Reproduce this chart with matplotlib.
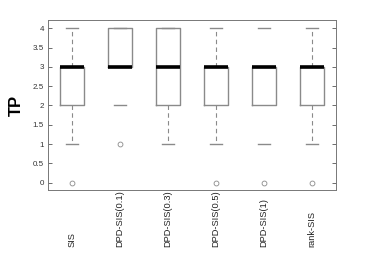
import matplotlib
matplotlib.use("Agg")
import matplotlib.pyplot as plt

plt.rcParams['font.family'] = ['Liberation Sans', 'DejaVu Sans']

methods = ["SIS", "DPD-SIS(0.1)", "DPD-SIS(0.3)", "DPD-SIS(0.5)", "DPD-SIS(1)", "rank-SIS"]
q1 = [2, 3, 2, 2, 2, 2]
med = [3, 3, 3, 3, 3, 3]
q3 = [3, 4, 4, 3, 3, 3]
whislo = [1, 2, 1, 1, 1, 1]
whishi = [4, 4, 4, 4, 4, 4]
fliers = [[0], [1], [], [0], [0], [0]]
yticks = [0, 0.5, 1, 1.5, 2, 2.5, 3, 3.5, 4]

stats = []
for i, m in enumerate(methods):
    stats.append(dict(label=m, q1=q1[i], med=med[i], q3=q3[i],
                      whislo=whislo[i], whishi=whishi[i], fliers=fliers[i]))

fig = plt.figure(figsize=(3.71, 2.78), dpi=100)
ax = fig.add_axes([48/371, 1 - 190/278, (336-48)/371, (190-20)/278])

gray = '#8a8a8a'
res = ax.bxp(stats, widths=0.5, showfliers=True,
             boxprops=dict(color=gray, linewidth=1.0),
             medianprops=dict(color='black', linewidth=2.6, solid_capstyle='butt'),
             whiskerprops=dict(color=gray, linewidth=0.8, linestyle=(0, (4, 3))),
             capprops=dict(color=gray, linewidth=1.0),
             flierprops=dict(marker='o', markersize=3.5, markerfacecolor='none',
                             markeredgecolor=gray, markeredgewidth=0.6),
             capwidths=0.25)

# whisker lines not visible for DPD-SIS(0.1) and DPD-SIS(1) in the reference
for idx in (1, 4):
    res['whiskers'][2*idx].set_visible(False)
    res['whiskers'][2*idx+1].set_visible(False)

ax.set_xlim(0.5, 6.5)
ax.set_ylim(-0.19, 4.215)
ax.set_yticks(yticks)
ax.set_yticklabels([f"{t:g}" for t in yticks])
ax.set_xticks(range(1, 7))
ax.set_xticklabels([])
ax.tick_params(axis='y', direction='in', length=3, width=0.6, color='#555555',
               labelsize=5.8, labelcolor='#333333', right=True, pad=3)
ax.tick_params(axis='x', length=0)
for s in ax.spines.values():
    s.set_color('#777777')
    s.set_linewidth(0.7)

# rotated category labels, bottom-aligned like the reference
trans = ax.get_xaxis_transform()
for i, m in enumerate(methods):
    ax.text(i + 1, -0.335, m, rotation=90, ha='center', va='bottom',
            fontsize=6.7, color='#222222', transform=trans)

ax.set_ylabel("TP", fontsize=12, fontweight='bold', labelpad=6)
ax.yaxis.set_label_coords(-0.085, 0.5)

fig.savefig("out.png", dpi=100)
